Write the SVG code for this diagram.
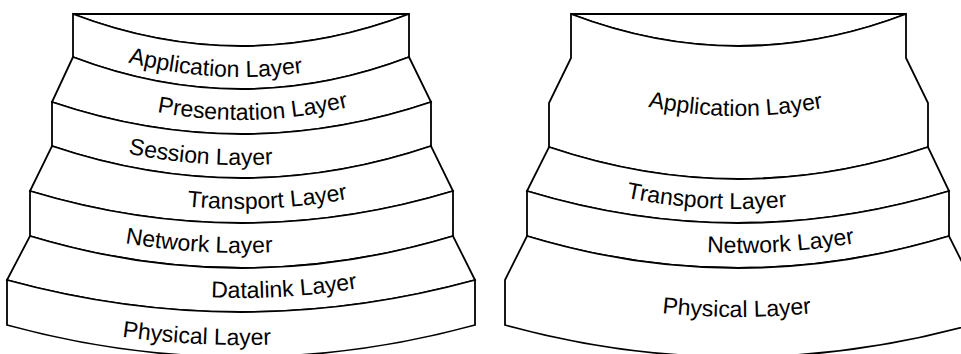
<svg xmlns="http://www.w3.org/2000/svg" xmlns:xlink="http://www.w3.org/1999/xlink" width="961" height="354" viewBox="0 0 961 354">
<style>
.band{fill:#fff;stroke:#000;stroke-width:1.8;stroke-linejoin:miter}
.lbl{font-family:"Liberation Sans",Arial,Helvetica,sans-serif;font-size:23px;fill:#000}
</style>
<defs>
<path id="pL1" d="M128,62.5 Q268.6,98.5 409,45"/>
<path id="pL2" d="M157,112 Q283,136 409,88"/>
<path id="pL3" d="M128,153.5 Q279.4,184.2 431,133"/>
<path id="pL4" d="M187,206.4 Q308.9,218.2 431,177"/>
<path id="pL5" d="M125,243.3 Q289,270.6 453,221"/>
<path id="pL6" d="M211,297.3 Q332,302.6 453,266"/>
<path id="pL7" d="M122,336.7 Q298.5,361.3 475,313"/>
<path id="pR1" d="M648,106.7 Q777,133.3 906,84"/>
<path id="pR2" d="M626,197.7 Q777,228 928,177"/>
<path id="pR3" d="M707,252.3 Q828,257.7 949,221"/>
<path id="pR4" d="M662,312.9 Q805.5,328.5 949,285"/>
</defs>
<rect width="961" height="354" fill="#fff"/>
<g id="osi-stack">
<g id="osi-top"><path class="band" d="M73,14 L409,14 Q241,78 73,14 Z"/></g>
<g id="osi-application">
<path class="band" d="M73,14 Q241,78 409,14 L409,57 Q241,121 73,57 Z"/>
<text class="lbl"><textPath xlink:href="#pL1" href="#pL1">Application Layer</textPath></text>
</g>
<g id="osi-presentation">
<path class="band" d="M73,57 Q241,121 409,57 L431,102 Q241.5,166 52,102 Z"/>
<text class="lbl"><textPath xlink:href="#pL2" href="#pL2">Presentation Layer</textPath></text>
</g>
<g id="osi-session">
<path class="band" d="M52,102 Q241.5,166 431,102 L431,146 Q241.5,210 52,146 Z"/>
<text class="lbl"><textPath xlink:href="#pL3" href="#pL3">Session Layer</textPath></text>
</g>
<g id="osi-transport">
<path class="band" d="M52,146 Q241.5,210 431,146 L453,191 Q241.5,255 30,191 Z"/>
<text class="lbl"><textPath xlink:href="#pL4" href="#pL4">Transport Layer</textPath></text>
</g>
<g id="osi-network">
<path class="band" d="M30,191 Q241.5,255 453,191 L453,236 Q241.5,300 30,236 Z"/>
<text class="lbl"><textPath xlink:href="#pL5" href="#pL5">Network Layer</textPath></text>
</g>
<g id="osi-datalink">
<path class="band" d="M30,236 Q241.5,300 453,236 L475,280 Q241,344 7,280 Z"/>
<text class="lbl"><textPath xlink:href="#pL6" href="#pL6">Datalink Layer</textPath></text>
</g>
<g id="osi-physical">
<path class="band" d="M7,280 Q241,344 475,280 L475,325 Q241,389 7,325 Z"/>
<text class="lbl"><textPath xlink:href="#pL7" href="#pL7">Physical Layer</textPath></text>
</g>
</g>
<g id="tcpip-stack">
<g id="tcpip-top"><path class="band" d="M571,14 L906,14 Q738.5,78 571,14 Z"/></g>
<g id="tcpip-application">
<path class="band" d="M571,14 Q738.5,78 906,14 L906,58 L928,103 L928,147 Q738.5,211 549,147 L549,103 L571,58 Z"/>
<text class="lbl"><textPath xlink:href="#pR1" href="#pR1">Application Layer</textPath></text>
</g>
<g id="tcpip-transport">
<path class="band" d="M549,147 Q738.5,211 928,147 L949,191 Q738,255 527,191 Z"/>
<text class="lbl"><textPath xlink:href="#pR2" href="#pR2">Transport Layer</textPath></text>
</g>
<g id="tcpip-network">
<path class="band" d="M527,191 Q738,255 949,191 L949,236 Q738,300 527,236 Z"/>
<text class="lbl"><textPath xlink:href="#pR3" href="#pR3">Network Layer</textPath></text>
</g>
<g id="tcpip-physical">
<path class="band" d="M527,236 Q738,300 949,236 L971,280 L971,325 Q738,389 505,325 L505,280 Z"/>
<text class="lbl"><textPath xlink:href="#pR4" href="#pR4">Physical Layer</textPath></text>
</g>
</g>
</svg>
